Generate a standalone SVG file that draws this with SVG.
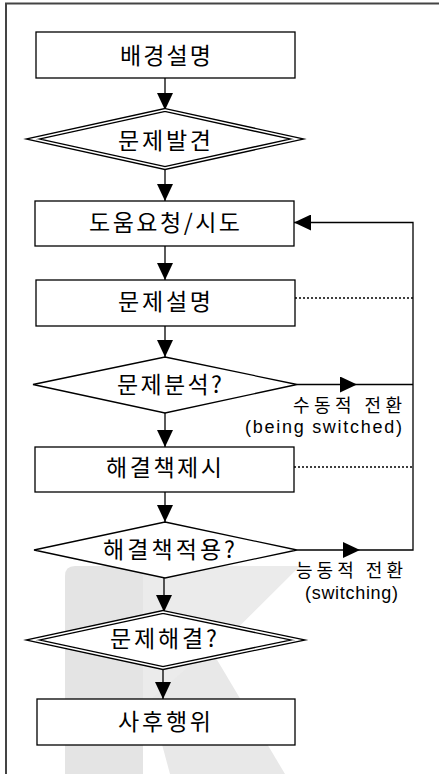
<svg xmlns="http://www.w3.org/2000/svg" width="439" height="774" viewBox="0 0 439 774">
<style>
.box{fill:#fff;stroke:#000;stroke-width:1.3}
.dia{fill:#fff;stroke:#000;stroke-width:1.3;stroke-linejoin:miter}
.dbl1{fill:#fff;stroke:#000;stroke-width:4.2;stroke-linejoin:miter;stroke-miterlimit:20}
.dbl2{fill:none;stroke:#fff;stroke-width:1.6;stroke-linejoin:miter;stroke-miterlimit:20}
.lbl{font-family:"Noto Sans CJK KR","Liberation Sans",sans-serif;font-size:23px;fill:#000}
.side{font-family:"Noto Sans CJK KR","Liberation Sans",sans-serif;font-size:18px;fill:#000}
.sidel{font-family:"Liberation Sans","Noto Sans CJK KR",sans-serif;font-size:18px;fill:#000}
.con{fill:none;stroke:#000;stroke-width:1.3}
.dot{fill:none;stroke:#000;stroke-width:1.3;stroke-dasharray:2 2}
</style>
<defs>
<marker id="ah" markerUnits="userSpaceOnUse" markerWidth="17" markerHeight="16" refX="17" refY="8" orient="auto" viewBox="0 0 17 16">
<path d="M0,0 L17,8 L0,16 Z" fill="#000"/>
</marker>
</defs>
<rect width="439" height="774" fill="#fff"/>
<g id="watermark">
<path d="M65,576 Q65,566 75,566 L143,566 L143,774 L65,774 Z" fill="#e4e4e4"/>
<polygon points="143,566 300,566 143,722" fill="#ebebeb"/>
<polygon points="150,700 210,648 285,774 170,774" fill="#e8e8e8"/>
</g>
<path d="M6,774 V3.5 H439" fill="none" stroke="#444" stroke-width="2"/>
<g id="connectors">
<path class="con" d="M165,78 V110" marker-end="url(#ah)"/>
<path class="con" d="M165,168 V201" marker-end="url(#ah)"/>
<path class="con" d="M165,246 V280" marker-end="url(#ah)"/>
<path class="con" d="M165,326 V357" marker-end="url(#ah)"/>
<path class="con" d="M165,413 V447" marker-end="url(#ah)"/>
<path class="con" d="M165,492 V522" marker-end="url(#ah)"/>
<path class="con" d="M164,578 V612" marker-end="url(#ah)"/>
<path class="con" d="M163,668 V699" marker-end="url(#ah)"/>
<path class="con" d="M297,384.5 H357" marker-end="url(#ah)"/>
<path class="con" d="M357,384.5 H413"/>
<path class="con" d="M297,550 H360" marker-end="url(#ah)"/>
<path class="con" d="M360,550 H413 V222.5 H294" marker-end="url(#ah)"/>
<path class="dot" d="M295,298 H413"/>
<path class="dot" d="M294,467 H413"/>
</g>
<g id="n1">
<rect class="box" x="36" y="32" width="259" height="46"/>
<text class="lbl" x="120" y="64" textLength="91" lengthAdjust="spacing">배경설명</text>
</g>
<g id="n2">
<polygon class="dbl1" points="165,110 297,139 165,168 33,139"/>
<polygon class="dbl2" points="165,110 297,139 165,168 33,139"/>
<text class="lbl" x="118" y="149" textLength="93" lengthAdjust="spacing">문제발견</text>
</g>
<g id="n3">
<rect class="box" x="35" y="201" width="259" height="45"/>
<text class="lbl" x="89" y="231" textLength="151" lengthAdjust="spacing">도움요청/시도</text>
</g>
<g id="n4">
<rect class="box" x="36" y="280" width="259" height="46"/>
<text class="lbl" x="118" y="310" textLength="93" lengthAdjust="spacing">문제설명</text>
</g>
<g id="n5">
<polygon class="dia" points="165,357 297,384.5 165,413 33,384.5"/>
<text class="lbl" x="117" y="393" textLength="105" lengthAdjust="spacing">문제분석?</text>
</g>
<g id="n6">
<rect class="box" x="35" y="447" width="259" height="45"/>
<text class="lbl" x="106" y="476" textLength="116" lengthAdjust="spacing">해결책제시</text>
</g>
<g id="n7">
<polygon class="dia" points="165,522 297,550 165,578 34,550"/>
<text class="lbl" x="103" y="558" textLength="132" lengthAdjust="spacing">해결책적용?</text>
</g>
<g id="n8">
<polygon class="dbl1" points="163,612 298,640 163,668 33,640"/>
<polygon class="dbl2" points="163,612 298,640 163,668 33,640"/>
<text class="lbl" x="110" y="647" textLength="107" lengthAdjust="spacing">문제해결?</text>
</g>
<g id="n9">
<rect class="box" x="37" y="699" width="258" height="46"/>
<text class="lbl" x="118" y="730" textLength="93" lengthAdjust="spacing">사후행위</text>
</g>
<g id="labels">
<text class="side" x="293" y="411.5" textLength="109" lengthAdjust="spacing">수동적 전환</text>
<text class="sidel" x="245" y="433" textLength="157" lengthAdjust="spacing">(being switched)</text>
<text class="side" x="296" y="577" textLength="107" lengthAdjust="spacing">능동적 전환</text>
<text class="sidel" x="305" y="599" textLength="93" lengthAdjust="spacing">(switching)</text>
</g>
</svg>
